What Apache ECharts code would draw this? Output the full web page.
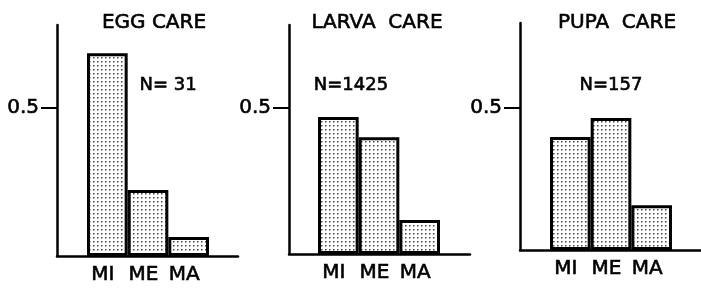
<!DOCTYPE html>
<html>
<head>
<meta charset="utf-8">
<script src="https://cdn.jsdelivr.net/npm/echarts@6/dist/echarts.min.js"></script>
<style>
  html, body { margin: 0; padding: 0; background: #fff; }
  #chart { width: 701px; height: 290px; }
</style>
</head>
<body>
<div id="chart"></div>
<script>
// data (proportion of care acts by worker size)
var categories = ['MI', 'ME', 'MA'];
var panelTitles = ['EGG CARE', 'LARVA  CARE', 'PUPA  CARE'];
var sampleSizes = ['N= 31', 'N=1425', 'N=157'];
var eggCare = [0.685, 0.223, 0.064];
var larvaCare = [0.469, 0.40, 0.116];
var pupaCare = [0.398, 0.465, 0.158];
var tickValues = [0.5];

var panelData = [eggCare, larvaCare, pupaCare];

// layout per panel (pixels)
var frameLeft = [57, 289, 520];
var barLeft = [87, 318, 550];
var gridTop = [25, 25, 23];
var gridBottom = [34, 36, 40];
var yMax = [0.78, 0.784, 0.80];
var titleX = [149, 372, 612];
var nX = [163, 346, 606];

// stippled fill like the printed figure
var dots = document.createElement('canvas');
dots.width = 4; dots.height = 4;
var ctx = dots.getContext('2d');
ctx.fillStyle = '#fff';
ctx.fillRect(0, 0, 4, 4);
ctx.fillStyle = '#444';
ctx.fillRect(1, 1, 1.5, 1.5);

var font = '"DejaVu Sans", "Liberation Sans", sans-serif';
// slightly heavier strokes, like hand lettering
var ink = { color: '#000', fontFamily: font, textBorderColor: '#000', textBorderWidth: 0.6 };

var grids = [], xAxes = [], yAxes = [], series = [], titles = [];

for (var i = 0; i < 3; i++) {
    // frame grid: the long baseline and the y axis with its 0.5 tick
    grids.push({ left: frameLeft[i], width: 181, top: gridTop[i], bottom: gridBottom[i] });
    // bar grid: bars sit side by side inside it
    grids.push({ left: barLeft[i], width: 122, top: gridTop[i], bottom: gridBottom[i] });

    xAxes.push({
        gridIndex: 2 * i, type: 'value', min: 0, max: 1,
        axisLine: { show: true, lineStyle: { color: '#000', width: 2.5 } },
        axisTick: { show: false }, axisLabel: { show: false }, splitLine: { show: false }
    });
    xAxes.push({
        gridIndex: 2 * i + 1, type: 'category', data: categories,
        axisLine: { show: false }, axisTick: { show: false },
        axisLabel: Object.assign({ fontSize: 20, margin: 9, padding: [0, 9, 0, 0] }, ink)
    });

    yAxes.push({
        gridIndex: 2 * i, type: 'value', min: 0, max: yMax[i],
        axisLine: { show: true, lineStyle: { color: '#000', width: 2.5 } },
        axisTick: { show: true, length: 16, customValues: tickValues, lineStyle: { color: '#000', width: 2 } },
        axisLabel: Object.assign({
            show: true, customValues: tickValues, margin: 18, fontSize: 20,
            formatter: function (v) { return v.toFixed(1); }
        }, ink),
        splitLine: { show: false }
    });
    yAxes.push({
        gridIndex: 2 * i + 1, type: 'value', min: 0, max: yMax[i], show: false
    });

    series.push({
        type: 'bar',
        xAxisIndex: 2 * i + 1, yAxisIndex: 2 * i + 1,
        data: panelData[i],
        barCategoryGap: 0,
        itemStyle: {
            color: { image: dots, repeat: 'repeat' },
            borderColor: '#000', borderWidth: 3
        },
        z: 3
    });

    titles.push({
        text: panelTitles[i], left: titleX[i], top: 8, textAlign: 'center',
        textStyle: Object.assign({ fontSize: 20, fontWeight: 'normal' }, ink)
    });
    titles.push({
        text: sampleSizes[i], left: nX[i], top: 71, textAlign: 'center',
        textStyle: Object.assign({ fontSize: 18, fontWeight: 'normal' }, ink)
    });
}

var myChart = echarts.init(document.getElementById('chart'));
var option = {
    backgroundColor: '#fff',
    animation: false,
    title: titles,
    grid: grids,
    xAxis: xAxes,
    yAxis: yAxes,
    series: series
};
myChart.setOption(option);
</script>
</body>
</html>
